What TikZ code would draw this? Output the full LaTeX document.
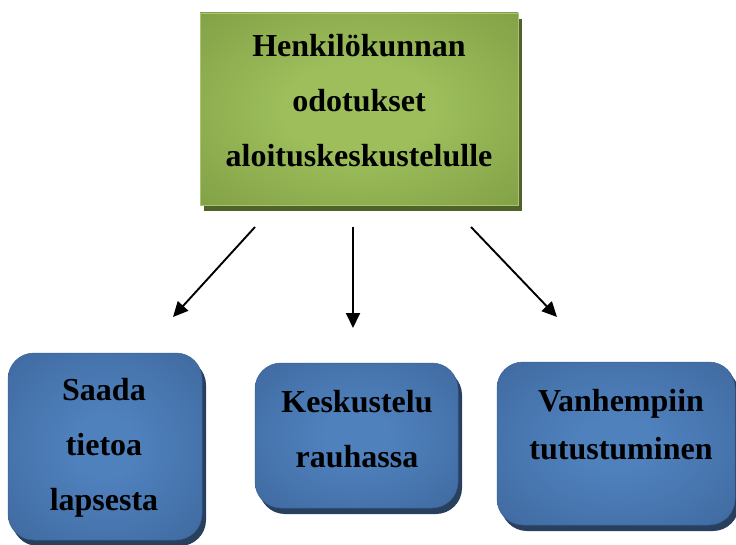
\documentclass[tikz,border=0pt]{standalone}
\usepackage{fontspec}
\setmainfont{Liberation Serif}
\usetikzlibrary{shadows,arrows.meta}
\definecolor{gcenter}{HTML}{9DBE5B}
\definecolor{gedge}{HTML}{77933C}
\definecolor{gline}{HTML}{A9C477}
\definecolor{gshadow}{HTML}{4F6228}
\definecolor{bcenter}{HTML}{4F81BD}
\definecolor{bedge}{HTML}{3A6195}
\definecolor{bshadow}{HTML}{283F5E}
\pgfdeclareradialshading{greenrad}{\pgfpoint{0bp}{0bp}}{color(0bp)=(gcenter); color(12bp)=(gcenter); color(46bp)=(gedge); color(50bp)=(gedge)}
\pgfdeclareradialshading{bluerad}{\pgfpoint{0bp}{0bp}}{color(0bp)=(bcenter); color(8bp)=(bcenter); color(46bp)=(bedge); color(50bp)=(bedge)}
\tikzset{
  greenbox/.style={shape=rectangle, shade, shading=greenrad, draw=gline, line width=0.6pt,
    inner sep=0pt, drop shadow={shadow xshift=4pt, shadow yshift=-6pt, fill=gshadow, opacity=1}},
  bluebox/.style={shape=rectangle, rounded corners=26pt, shade, shading=bluerad, draw=bedge, line width=0.5pt,
    inner sep=0pt, drop shadow={shadow xshift=4pt, shadow yshift=-6pt, fill=bshadow, opacity=1}},
  boxtext/.style={align=center, inner sep=0pt, font=\fontsize{32}{55}\selectfont\bfseries},
  arr/.style={line width=1.9pt, -{Triangle[length=15pt,width=14pt]}}
}
\begin{document}
\begin{tikzpicture}[x=1pt,y=-1pt]
\useasboundingbox (0,0) rectangle (736,545);
% top box
\node[greenbox, minimum width=318pt, minimum height=192pt] (top) at (359,109) {};
\node[boxtext] (toptext) at (359,101) {Henkilökunnan\\odotukset\\aloituskeskustelulle};
% bottom boxes
\node[bluebox, minimum width=194pt, minimum height=187pt] (b1) at (105,446.5) {};
\node[boxtext] (b1text) at (104,448) {Saada\\tietoa\\lapsesta};
\node[bluebox, minimum width=203pt, minimum height=145pt] (b2) at (356.5,435.5) {};
\node[boxtext] (b2text) at (357,429) {Keskustelu\\rauhassa};
\node[bluebox, minimum width=238pt, minimum height=163pt] (b3) at (616,443.5) {};
\node[boxtext, font=\fontsize{32}{48}\selectfont\bfseries] (b3text) at (621,425) {Vanhempiin\\tutustuminen};
% arrows
\coordinate (a1s) at (255,227);
\coordinate (a1e) at (173,317);
\coordinate (a2s) at (353,227);
\coordinate (a2e) at (353,328);
\coordinate (a3s) at (471,227);
\coordinate (a3e) at (557,317);
\draw[arr] (a1s) -- (a1e);
\draw[arr] (a2s) -- (a2e);
\draw[arr] (a3s) -- (a3e);
\end{tikzpicture}
\end{document}
